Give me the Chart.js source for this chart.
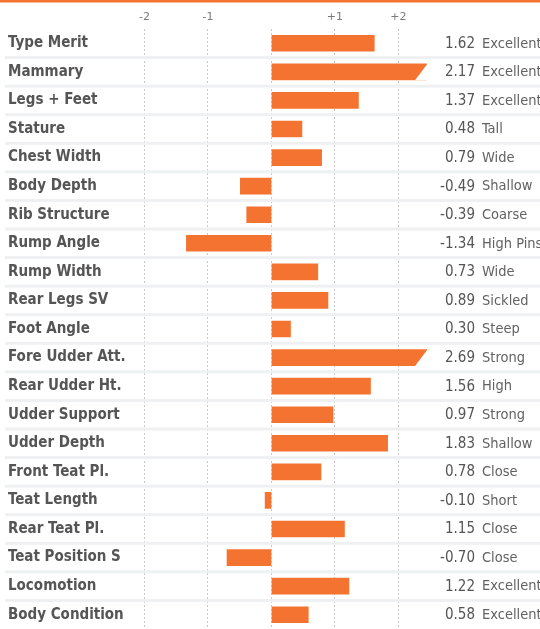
<!DOCTYPE html>
<html>
<head>
<meta charset="utf-8">
<script src="https://cdn.jsdelivr.net/npm/chart.js@4.4.0/dist/chart.umd.min.js"></script>
<style>
  body { margin: 0; background: #fff; }
</style>
</head>
<body>
<canvas id="traits" width="540" height="629"></canvas>
<script>
const traits = ['Type Merit', 'Mammary', 'Legs + Feet', 'Stature', 'Chest Width', 'Body Depth',
  'Rib Structure', 'Rump Angle', 'Rump Width', 'Rear Legs SV', 'Foot Angle', 'Fore Udder Att.',
  'Rear Udder Ht.', 'Udder Support', 'Udder Depth', 'Front Teat Pl.', 'Teat Length',
  'Rear Teat Pl.', 'Teat Position S', 'Locomotion', 'Body Condition'];
const values = [1.62, 2.17, 1.37, 0.48, 0.79, -0.49, -0.39, -1.34, 0.73, 0.89, 0.30, 2.69,
  1.56, 0.97, 1.83, 0.78, -0.10, 1.15, -0.70, 1.22, 0.58];
const descriptions = ['Excellent', 'Excellent', 'Excellent', 'Tall', 'Wide', 'Shallow', 'Coarse',
  'High Pins', 'Wide', 'Sickled', 'Steep', 'Strong', 'High', 'Strong', 'Shallow', 'Close',
  'Short', 'Close', 'Close', 'Excellent', 'Excellent'];
const tickValues = [-2, -1, 0, 1, 2];

const xMin = -2.2;
const xMax = 2.45;
const capAt = 2; // bars past this run to the edge with a slanted end

const orange = '#f47330';
const condensed = "'DejaVu Sans Condensed', 'DejaVu Sans', sans-serif";

const rowStyle = {
  id: 'rowStyle',
  beforeDatasetsDraw(chart) {
    const ctx = chart.ctx;
    const rowH = (chart.chartArea.bottom - chart.chartArea.top) / traits.length;
    ctx.save();
    ctx.fillStyle = '#eff0f2';
    for (let i = 1; i < traits.length; i++) {
      const yy = chart.chartArea.top + i * rowH;
      ctx.fillRect(5, yy - 1.5, chart.width - 5, 3);
    }
    ctx.restore();
  },
  afterDatasetsDraw(chart) {
    const ctx = chart.ctx;
    const meta = chart.getDatasetMeta(0);
    ctx.save();
    ctx.fillStyle = '#ffffff';
    meta.data.forEach((bar, i) => {
      if (values[i] > capAt) {
        const top = bar.y - bar.height / 2;
        const bottom = bar.y + bar.height / 2;
        ctx.beginPath();
        ctx.moveTo(bar.x + 0.5, top);
        ctx.lineTo(bar.x + 0.5, bottom + 0.5);
        ctx.lineTo(bar.x - 12, bottom + 0.5);
        ctx.closePath();
        ctx.fill();
      }
    });
    ctx.restore();
  },
  afterDraw(chart) {
    const ctx = chart.ctx;
    const y = chart.scales.y;
    ctx.save();
    ctx.fillStyle = orange;
    ctx.fillRect(0, 0, chart.width, 2.5);
    ctx.textBaseline = 'middle';
    traits.forEach((t, i) => {
      const yy = y.getPixelForValue(i) + 0.5;
      ctx.font = "15px " + condensed;
      ctx.fillStyle = '#555555';
      ctx.textAlign = 'right';
      ctx.fillText(values[i].toFixed(2), 475, yy);
      ctx.font = "14.5px " + condensed;
      ctx.fillStyle = '#626262';
      ctx.textAlign = 'left';
      ctx.fillText(descriptions[i], 482, yy);
    });
    ctx.restore();
  }
};

new Chart(document.getElementById('traits'), {
  type: 'bar',
  data: {
    labels: traits,
    datasets: [{
      data: values.map(v => v > capAt ? xMax : v),
      backgroundColor: orange,
      borderWidth: 0,
      barThickness: 16
    }]
  },
  options: {
    indexAxis: 'y',
    responsive: false,
    animation: false,
    layout: { padding: { left: 8, right: 113, top: 0, bottom: 0 } },
    plugins: {
      legend: { display: false },
      tooltip: { enabled: false }
    },
    scales: {
      x: {
        position: 'top',
        min: xMin,
        max: xMax,
        afterBuildTicks(scale) {
          scale.ticks = tickValues.map(v => ({ value: v }));
        },
        afterFit(scale) {
          scale.height = 29;
          scale.paddingLeft = 0;
          scale.paddingRight = 0;
        },
        grid: { color: '#c8c8c8', lineWidth: 1, drawTicks: false },
        border: { display: false, dash: [2, 2] },
        ticks: {
          padding: 5,
          color: '#7a7a7a',
          font: { family: "'DejaVu Sans', sans-serif", size: 11 },
          callback: v => v === 0 ? '' : (v > 0 ? '+' + v : '' + v)
        }
      },
      y: {
        afterFit(scale) {
          scale.width = 123.8;
          scale.paddingTop = 0;
          scale.paddingBottom = 0;
        },
        grid: { display: false },
        border: { display: false },
        ticks: {
          crossAlign: 'far',
          color: '#555555',
          font: { family: condensed, size: 15, weight: 'bold' }
        }
      }
    }
  },
  plugins: [rowStyle]
});
</script>
</body>
</html>
